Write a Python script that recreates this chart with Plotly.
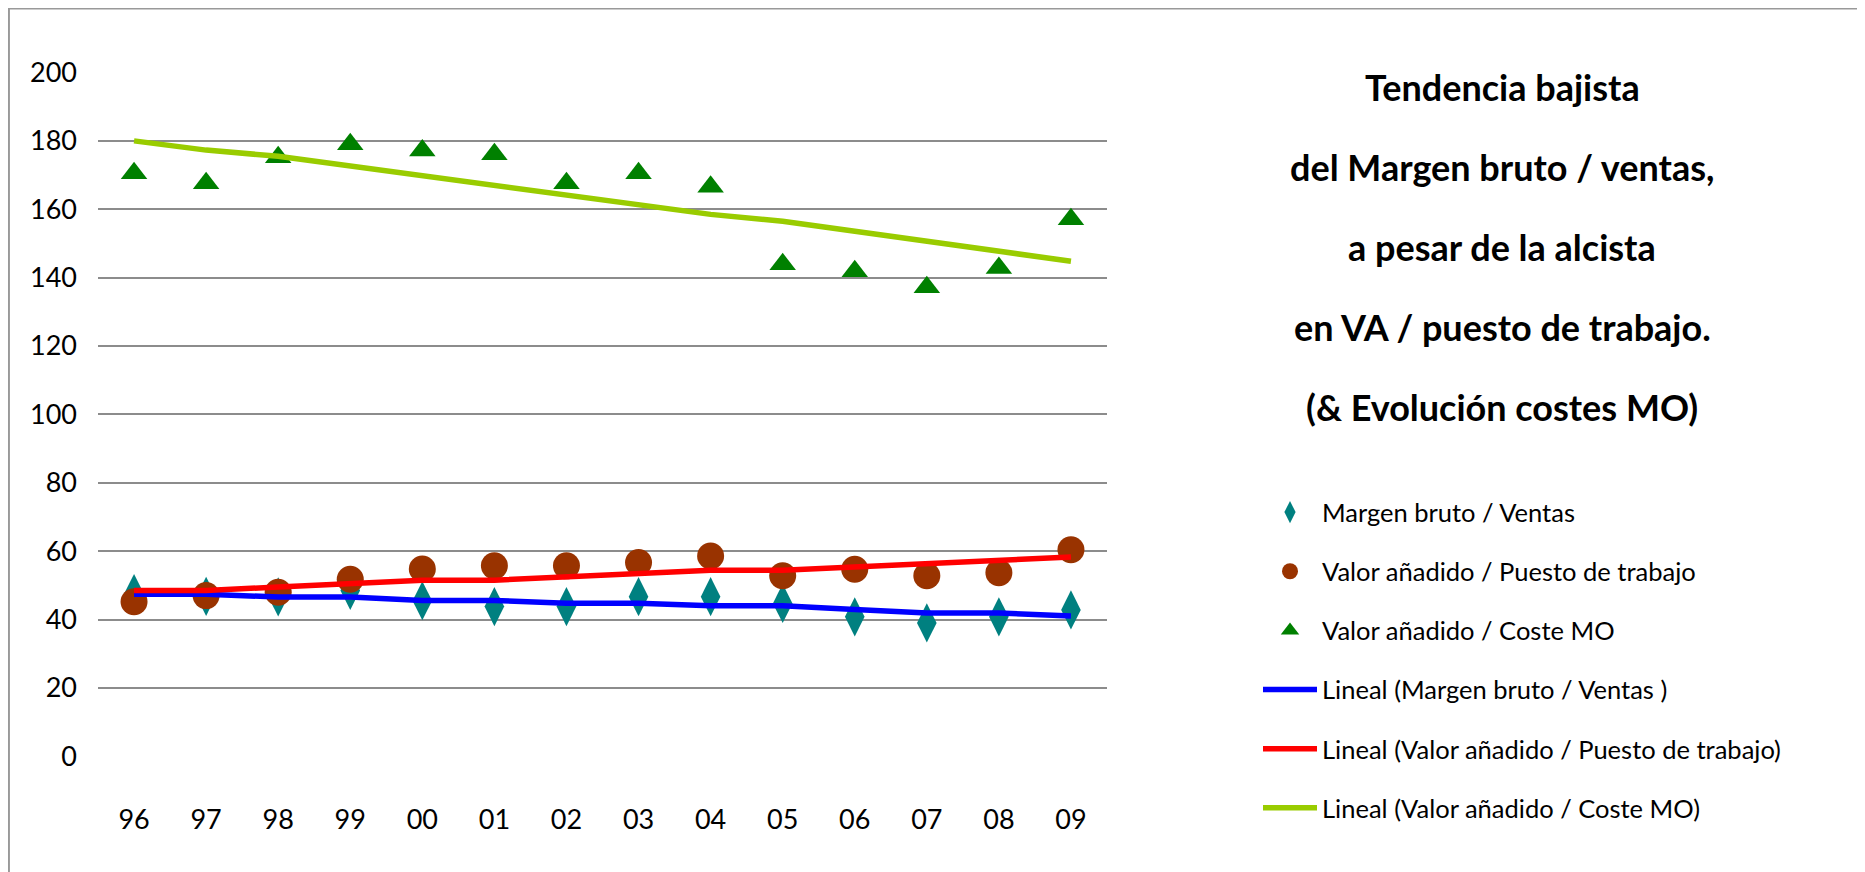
import plotly.graph_objects as go

# page is offset by the default 8px body margin; figure sized to fill the rest of the window
OFF = 8
FW, FH = 1865 - OFF, 872 - OFF


def px(x):
    return (x - OFF) / FW


def py(y):
    return 1 - (y - OFF) / FH


years = ["96", "97", "98", "99", "00", "01", "02", "03", "04", "05", "06", "07", "08", "09"]
margen_ventas = [47.6, 46.8, 46.6, 48.5, 45.5, 43.8, 43.8, 46.7, 46.7, 44.7, 40.8, 39.0, 40.8, 42.8]
va_puesto = [45.2, 47.0, 48.0, 51.8, 54.8, 55.7, 55.7, 56.7, 58.6, 52.8, 54.7, 52.8, 53.7, 60.4]
va_coste_mo = [170.5, 167.6, 175.2, 179.0, 177.2, 176.1, 167.6, 170.5, 166.6, 143.9, 141.9, 137.2, 142.8, 157.1]
trend_margen = [47.4, 47.4, 46.6, 46.6, 45.6, 45.6, 44.8, 44.8, 44.0, 44.0, 42.9, 41.9, 41.9, 41.0]
trend_puesto = [48.5, 48.5, 49.5, 50.5, 51.5, 51.5, 52.4, 53.4, 54.4, 54.4, 55.3, 56.3, 57.3, 58.3]
trend_coste = [180.0, 177.3, 175.5, 172.7, 169.8, 166.9, 163.9, 161.2, 158.5, 156.5, 153.6, 150.7, 148.0, 144.8]
y_ticks = [0, 20, 40, 60, 80, 100, 120, 140, 160, 180, 200]

title_lines = [
    "Tendencia bajista",
    "del Margen bruto / ventas,",
    "a pesar de la alcista",
    "en VA / puesto de trabajo.",
    "(& Evolución costes MO)",
]

FONT = "Lato, Liberation Sans, Arial, sans-serif"

fig = go.Figure()
fig.add_trace(go.Scatter(x=years, y=margen_ventas, mode="markers", name="Margen bruto / Ventas",
                         legendgroup="a",
                         marker=dict(symbol="diamond-tall", size=28, color="#008080")))
fig.add_trace(go.Scatter(x=years, y=va_puesto, mode="markers", name="Valor añadido / Puesto de trabajo",
                         legendgroup="b",
                         marker=dict(symbol="circle", size=27, color="#993300")))
fig.add_trace(go.Scatter(x=years, y=va_coste_mo, mode="markers", name="Valor añadido / Coste MO",
                         legendgroup="c",
                         marker=dict(symbol="triangle-up", size=23, color="#008000")))
fig.add_trace(go.Scatter(x=years, y=trend_margen, mode="lines", name="Lineal (Margen bruto / Ventas )",
                         legendgroup="d",
                         line=dict(color="#0000FF", width=5.5)))
fig.add_trace(go.Scatter(x=years, y=trend_puesto, mode="lines", name="Lineal (Valor añadido / Puesto de trabajo)",
                         legendgroup="e",
                         line=dict(color="#FF0000", width=5.5)))
fig.add_trace(go.Scatter(x=years, y=trend_coste, mode="lines", name="Lineal (Valor añadido / Coste MO)",
                         legendgroup="f",
                         line=dict(color="#99CC00", width=5.5)))

x_dom = [px(98), px(1107)]
y_dom = [py(756.3), py(72.5)]

annotations = []
title_y = [87, 167, 247, 327, 407]
for txt, yy in zip(title_lines, title_y):
    annotations.append(dict(text="<b>" + txt + "</b>", x=px(1502), y=py(yy),
                            xref="paper", yref="paper", showarrow=False,
                            xanchor="center", yanchor="middle",
                            font=dict(family=FONT, size=36, color="#000000")))

fig.update_layout(
    width=FW, height=FH,
    margin=dict(l=0, r=0, t=0, b=0),
    paper_bgcolor="white", plot_bgcolor="white",
    font=dict(family=FONT, color="#000000"),
    showlegend=True,
    legend=dict(x=px(1258), y=py(489), xanchor="left", yanchor="top",
                font=dict(family=FONT, size=25.5, color="#000000"),
                tracegroupgap=23, bgcolor="rgba(0,0,0,0)", itemwidth=54),
    xaxis=dict(domain=x_dom, type="category", range=[-0.5, 13.5],
               showgrid=False, showline=False, zeroline=False, ticks="",
               tickfont=dict(family=FONT, size=27), ticklabelstandoff=45,
               automargin=False),
    yaxis=dict(domain=y_dom, range=[0, 200], tickvals=y_ticks,
               showgrid=True, gridcolor="#8c8c8c", gridwidth=1.5,
               zeroline=False, showline=False, ticks="",
               tickfont=dict(family=FONT, size=27), ticklabelstandoff=20,
               automargin=False),
    annotations=annotations,
    shapes=[dict(type="rect", xref="paper", yref="paper",
                 x0=0.0005, x1=1.05, y0=-0.05, y1=0.9995,
                 line=dict(color="#999999", width=2), layer="above")],
)

fig.write_html("out.html")
